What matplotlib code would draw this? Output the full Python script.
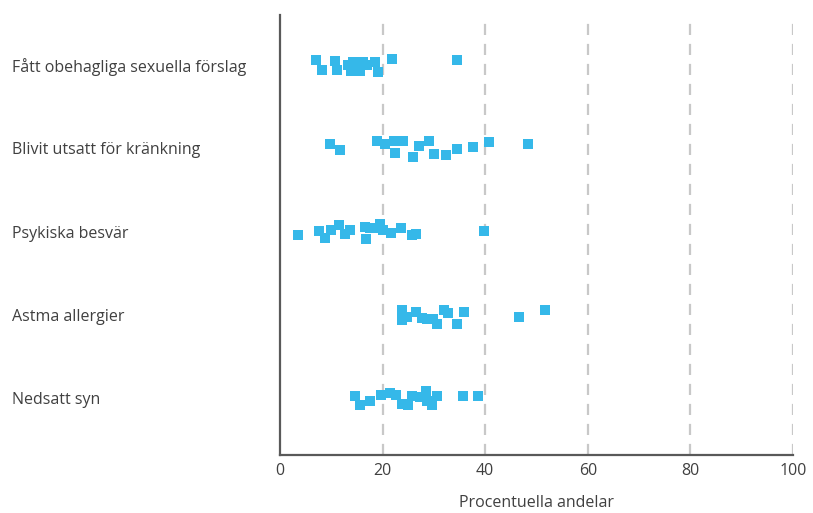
import matplotlib.pyplot as plt

# categories, top to bottom
categories = ['Fått obehagliga sexuella förslag', 'Blivit utsatt för kränkning',
              'Psykiska besvär', 'Astma allergier', 'Nedsatt syn']

# percent values per category
fatt = [7.1, 8.1, 10.8, 11.2, 13.3, 13.8, 14.3, 14.8, 15.2, 15.6, 16.2, 16.9, 18.5, 19.2, 21.8, 34.5]
fatt_dy = [-5, 5, -4, 5, 0, 6, -3, 5, 2, 6, -3, 0, -3, 7, -6, -5]

blivit = [9.7, 11.7, 19.0, 20.5, 22.2, 22.4, 23.9, 25.9, 27.0, 29.1, 30.0, 32.4, 34.5, 37.7, 40.7, 48.3]
blivit_dy = [-4, 2, -7, -4, -7, 5, -7, 9, -2, -7, 6, 7, 1, -1, -6, -4]

psykiska = [3.6, 7.6, 8.7, 10.0, 11.5, 12.6, 13.6, 16.5, 16.7, 17.5, 18.7, 19.5, 20.1, 21.6, 23.6, 25.7, 26.6, 39.7]
psykiska_dy = [3, -1, 6, -2, -7, 2, -2, -5, 7, -4, -4, -8, -2, 1, -4, 4, 2, -1]

astma = [23.7, 23.7, 24.7, 26.6, 27.6, 28.7, 29.8, 30.7, 31.9, 32.8, 34.6, 35.8, 46.6, 51.7]
astma_dy = [-5, 5, 2, -3, 3, 4, 4, 9, -5, -2, 9, -3, 2, -5]

nedsatt = [14.7, 15.6, 17.6, 19.7, 21.5, 22.7, 23.8, 24.9, 25.7, 27.3, 28.5, 28.6, 29.6, 30.7, 35.6, 38.6]
nedsatt_dy = [-2, 7, 3, -3, -5, -3, 6, 7, -2, -1, -7, 3, 7, -2, -2, -2]

series = [(fatt, fatt_dy), (blivit, blivit_dy), (psykiska, psykiska_dy),
          (astma, astma_dy), (nedsatt, nedsatt_dy)]

row_px = 83.25  # pixels between rows, used to turn pixel jitter into data units
blue = '#35B8E9'
text_col = '#404040'

plt.rcParams['font.family'] = ['Open Sans', 'DejaVu Sans']

fig = plt.figure(figsize=(8.13, 5.13), dpi=100)
ax = fig.add_axes([280 / 813, 1 - 455 / 513, 513 / 813, 440 / 513])

for i, (vals, dy) in enumerate(series):
    ys = [i + d / row_px for d in dy]
    ax.scatter(vals, ys, marker='s', s=44, color=blue, linewidths=0, zorder=3)

ax.set_xlim(0, 100)
ax.set_ylim(4 + 57 / row_px, -50 / row_px)

for x in [20, 40, 60, 80, 100]:
    ax.axvline(x, color='#C8C8C8', linestyle=(0, (5, 4)), linewidth=1.6, zorder=1)

ax.set_xticks([0, 20, 40, 60, 80, 100])
ax.set_yticks(range(len(categories)))
ax.set_yticklabels(categories)
ax.tick_params(axis='both', length=0, colors=text_col, labelsize=11.5)
ax.tick_params(axis='x', pad=6)
ax.tick_params(axis='y', pad=(280 - 12) * 0.72)
for lab in ax.get_yticklabels():
    lab.set_horizontalalignment('left')

ax.set_xlabel('Procentuella andelar', color=text_col, fontsize=11.5, labelpad=11)

for side in ['top', 'right']:
    ax.spines[side].set_visible(False)
for side in ['left', 'bottom']:
    ax.spines[side].set_color('#595959')
    ax.spines[side].set_linewidth(1.6)

fig.savefig('out.png', dpi=100)
